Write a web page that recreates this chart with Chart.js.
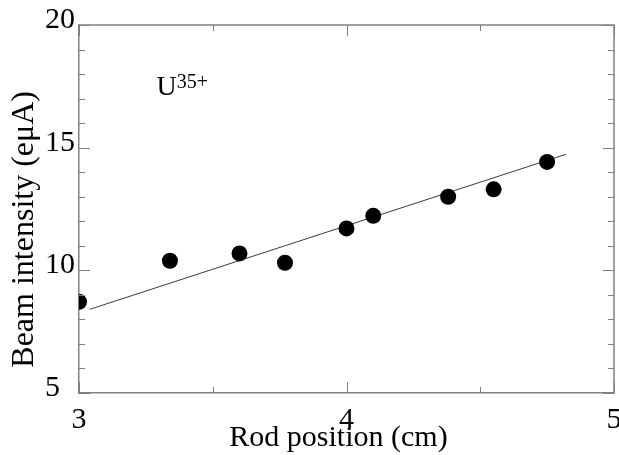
<!DOCTYPE html>
<html>
<head>
<meta charset="utf-8">
<script src="https://cdn.jsdelivr.net/npm/chart.js@4.4.1/dist/chart.umd.min.js"></script>
<style>
  html, body { margin: 0; padding: 0; background: #fff; }
  #wrap { width: 619px; height: 455px; }
</style>
</head>
<body>
<div id="wrap"><canvas id="chart" width="619" height="455"></canvas></div>
<script>
// measured points: rod position (cm) vs beam intensity (eμA)
const rodPosition = [3.0, 3.34, 3.6, 3.77, 4.0, 4.1, 4.38, 4.55, 4.75];
const beamIntensity = [8.72, 10.39, 10.69, 10.31, 11.71, 12.22, 13.0, 13.3, 14.42];

// straight fit line, two end points
const fitX = [3.04, 4.82];
const fitY = [8.41, 14.73];

const xTickLabels = [3, 4, 5];
const yTickLabels = [5, 10, 15, 20];

const xTitle = 'Rod position (cm)';
const yTitle = 'Beam intensity (eμA)';
const ionName = 'U';
const ionCharge = '35+';

const serif = '"Liberation Serif", "Times New Roman", serif';
const axisColor = '#808080';

// frame on top/right plus inward tick marks on all four sides
const frameTicks = {
  id: 'frameTicks',
  afterDraw(chart) {
    const { ctx, chartArea: a, scales: { x, y } } = chart;
    ctx.save();
    ctx.strokeStyle = axisColor;
    ctx.lineWidth = 1.5;
    ctx.beginPath();
    ctx.moveTo(a.left, a.top);
    ctx.lineTo(a.right, a.top);
    ctx.lineTo(a.right, a.bottom);
    ctx.stroke();

    ctx.lineWidth = 1;
    ctx.beginPath();
    x.ticks.forEach(t => {
      const px = Math.round(x.getPixelForValue(t.value)) + 0.5;
      const len = xTickLabels.includes(t.value) ? 11 : 6;
      ctx.moveTo(px, a.bottom); ctx.lineTo(px, a.bottom - len);
      ctx.moveTo(px, a.top); ctx.lineTo(px, a.top + len);
    });
    y.ticks.forEach(t => {
      const py = Math.round(y.getPixelForValue(t.value)) + 0.5;
      const len = yTickLabels.includes(t.value) ? 11 : 6;
      ctx.moveTo(a.left, py); ctx.lineTo(a.left + len, py);
      ctx.moveTo(a.right, py); ctx.lineTo(a.right - len, py);
    });
    ctx.stroke();
    ctx.restore();
  }
};

// axis titles and the ion label
const textLabels = {
  id: 'textLabels',
  afterDraw(chart) {
    const { ctx, scales: { x, y } } = chart;
    ctx.save();
    ctx.fillStyle = '#000';
    ctx.textBaseline = 'alphabetic';

    ctx.font = '30px ' + serif;
    ctx.textAlign = 'center';
    ctx.fillText(xTitle, x.getPixelForValue(3.97), 446);

    ctx.font = '32px ' + serif;
    ctx.translate(33, y.getPixelForValue(11.67));
    ctx.rotate(-Math.PI / 2);
    ctx.fillText(yTitle, 0, 0);
    ctx.setTransform(1, 0, 0, 1, 0, 0);

    ctx.textAlign = 'left';
    const ux = x.getPixelForValue(3.29);
    const uy = y.getPixelForValue(17.15);
    ctx.font = '28px ' + serif;
    ctx.fillText(ionName, ux, uy);
    const uw = ctx.measureText(ionName).width;
    ctx.font = '20px ' + serif;
    ctx.fillText(ionCharge, ux + uw, uy - 7);
    ctx.restore();
  }
};

new Chart(document.getElementById('chart'), {
  type: 'scatter',
  data: {
    datasets: [
      {
        label: 'measured',
        data: rodPosition.map((v, i) => ({ x: v, y: beamIntensity[i] })),
        backgroundColor: '#000',
        borderColor: '#000',
        pointRadius: 8,
        pointBorderWidth: 0
      },
      {
        label: 'fit',
        type: 'line',
        data: fitX.map((v, i) => ({ x: v, y: fitY[i] })),
        borderColor: '#3a3a3a',
        borderWidth: 1,
        pointRadius: 0,
        fill: false
      }
    ]
  },
  options: {
    responsive: false,
    animation: false,
    layout: { autoPadding: false, padding: { left: 45, top: 25, right: 5, bottom: 0 } },
    plugins: { legend: { display: false }, tooltip: { enabled: false } },
    scales: {
      x: {
        type: 'linear',
        min: 3, max: 5,
        grid: { display: false },
        border: { display: true, color: axisColor, width: 1.5 },
        ticks: {
          stepSize: 0.5,
          autoSkip: false,
          maxRotation: 0,
          padding: 1,
          color: '#000',
          font: { family: serif, size: 30 },
          callback: v => xTickLabels.includes(v) ? String(v) : ''
        },
        afterFit: s => { s.height = 62; s.paddingLeft = 0; s.paddingRight = 0; }
      },
      y: {
        min: 5, max: 20,
        grid: { display: false },
        border: { display: true, color: axisColor, width: 1.5 },
        ticks: {
          stepSize: 1,
          autoSkip: false,
          crossAlign: 'far',
          color: '#000',
          font: { family: serif, size: 30, lineHeight: '10px' },
          callback: v => yTickLabels.includes(v) ? [String(v), ''] : ''
        },
        afterFit: s => { s.width = 34; s.paddingTop = 0; s.paddingBottom = 0; }
      }
    }
  },
  plugins: [frameTicks, textLabels]
});
</script>
</body>
</html>
